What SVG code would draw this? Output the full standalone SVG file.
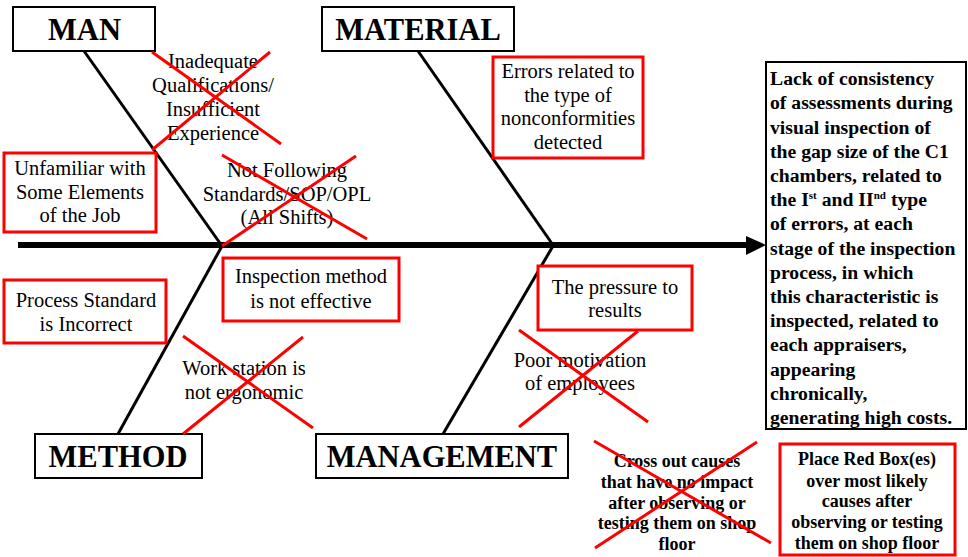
<svg xmlns="http://www.w3.org/2000/svg" width="968" height="557" viewBox="0 0 968 557">
<defs>
<style>
text{font-family:"Liberation Serif","Times New Roman",serif;fill:#000}
.t{font-size:20.5px;text-anchor:middle}
.h{font-size:30.5px;font-weight:bold;text-anchor:middle}
.b{font-size:19.7px;font-weight:bold}
.s{font-size:18px;font-weight:bold;text-anchor:middle}
.kbox{fill:#fff;stroke:#000;stroke-width:2}
.rbox{fill:#fff;stroke:#ff0000;stroke-width:3}
.bone{stroke:#000;stroke-width:3;fill:none}
.x{stroke:#ff0000;stroke-width:3;fill:none}
</style>
</defs>
<rect width="968" height="557" fill="#fff"/>
<g id="connectors">
<line x1="18" y1="245" x2="750" y2="245" stroke="#000" stroke-width="6"/>
<polygon points="746,236 766,245 746,255" fill="#000"/>
<line class="bone" x1="84" y1="51" x2="222" y2="246"/>
<line class="bone" x1="418" y1="51" x2="553" y2="245"/>
<line class="bone" x1="222" y1="246" x2="118" y2="434"/>
<line class="bone" x1="553" y1="246" x2="443" y2="434"/>
</g>
<g id="man"><rect class="kbox" x="13" y="7" width="142" height="44"/><text class="h" x="84.5" y="40">MAN</text></g>
<g id="material"><rect class="kbox" x="322" y="7" width="192" height="44"/><text class="h" x="418" y="40">MATERIAL</text></g>
<g id="method"><rect class="kbox" x="35" y="434" width="167" height="44"/><text class="h" x="118" y="467">METHOD</text></g>
<g id="management"><rect class="kbox" x="316" y="434" width="252" height="44"/><text class="h" x="442" y="467">MANAGEMENT</text></g>
<g id="problem">
<rect class="kbox" x="766" y="62" width="200" height="367"/>
<text class="b" x="770" y="85">Lack of consistency</text>
<text class="b" x="770" y="109">of assessments during</text>
<text class="b" x="770" y="133.5">visual inspection of</text>
<text class="b" x="770" y="157.5">the gap size of the C1</text>
<text class="b" x="770" y="182">chambers, related to</text>
<text class="b" x="770" y="206">the I<tspan font-size="11" dy="-7">st</tspan><tspan dy="7"> and II</tspan><tspan font-size="11" dy="-7">nd</tspan><tspan dy="7"> type</tspan></text>
<text class="b" x="770" y="230">of errors, at each</text>
<text class="b" x="770" y="254.5">stage of the inspection</text>
<text class="b" x="770" y="278.5">process, in which</text>
<text class="b" x="770" y="303">this characteristic is</text>
<text class="b" x="770" y="327">inspected, related to</text>
<text class="b" x="770" y="351">each appraisers,</text>
<text class="b" x="770" y="375.5">appearing</text>
<text class="b" x="770" y="399.5">chronically,</text>
<text class="b" x="770" y="423.5">generating high costs.</text>
</g>
<g id="inadequate">
<text class="t" x="213" y="68">Inadequate</text>
<text class="t" x="213" y="92">Qualifications/</text>
<text class="t" x="213" y="116">Insufficient</text>
<text class="t" x="213" y="140">Experience</text>
<line class="x" x1="152" y1="52" x2="281" y2="144"/>
<line class="x" x1="270" y1="52" x2="152" y2="150"/>
</g>
<g id="unfamiliar">
<rect class="rbox" x="4" y="153" width="152" height="79"/>
<text class="t" x="80" y="175">Unfamiliar with</text>
<text class="t" x="80" y="199">Some Elements</text>
<text class="t" x="80" y="222">of the Job</text>
</g>
<g id="notfollowing">
<text class="t" x="287" y="177">Not Following</text>
<text class="t" x="287" y="201">Standards/SOP/OPL</text>
<text class="t" x="287" y="224">(All Shifts)</text>
<line class="x" x1="222" y1="155" x2="367" y2="239"/>
<line class="x" x1="356" y1="156" x2="222" y2="246"/>
</g>
<g id="errors">
<rect class="rbox" x="493" y="57" width="150" height="101"/>
<text class="t" x="568" y="78">Errors related to</text>
<text class="t" x="568" y="102">the type of</text>
<text class="t" x="568" y="125">nonconformities</text>
<text class="t" x="568" y="149">detected</text>
</g>
<g id="inspection">
<rect class="rbox" x="223" y="258" width="176" height="63"/>
<text class="t" x="311" y="283">Inspection method</text>
<text class="t" x="311" y="308">is not effective</text>
</g>
<g id="processstandard">
<rect class="rbox" x="4" y="280" width="162" height="63"/>
<text class="t" x="86" y="307">Process Standard</text>
<text class="t" x="86" y="331">is Incorrect</text>
</g>
<g id="workstation">
<text class="t" x="244" y="375">Work station is</text>
<text class="t" x="244" y="399">not ergonomic</text>
<line class="x" x1="183" y1="336" x2="313" y2="428"/>
<line class="x" x1="303" y1="337" x2="183" y2="434"/>
</g>
<g id="pressure">
<rect class="rbox" x="538" y="266" width="154" height="64"/>
<text class="t" x="615" y="294">The pressure to</text>
<text class="t" x="615" y="317">results</text>
</g>
<g id="motivation">
<text class="t" x="580" y="367">Poor motivation</text>
<text class="t" x="580" y="390">of employees</text>
<line class="x" x1="519" y1="330" x2="648" y2="422"/>
<line class="x" x1="638" y1="331" x2="519" y2="427"/>
</g>
<g id="crossout">
<text class="s" x="677" y="467">Cross out causes</text>
<text class="s" x="677" y="488">that have no impact</text>
<text class="s" x="677" y="509">after observing or</text>
<text class="s" x="677" y="529">testing them on shop</text>
<text class="s" x="677" y="550">floor</text>
<line class="x" x1="594" y1="441" x2="771" y2="543"/>
<line class="x" x1="757" y1="442" x2="595" y2="548"/>
</g>
<g id="placeredbox">
<rect class="rbox" x="780" y="444" width="175" height="111"/>
<text class="s" x="867" y="465">Place Red Box(es)</text>
<text class="s" x="867" y="487">over most likely</text>
<text class="s" x="867" y="507">causes after</text>
<text class="s" x="867" y="528">observing or testing</text>
<text class="s" x="867" y="549">them on shop floor</text>
</g>
</svg>
